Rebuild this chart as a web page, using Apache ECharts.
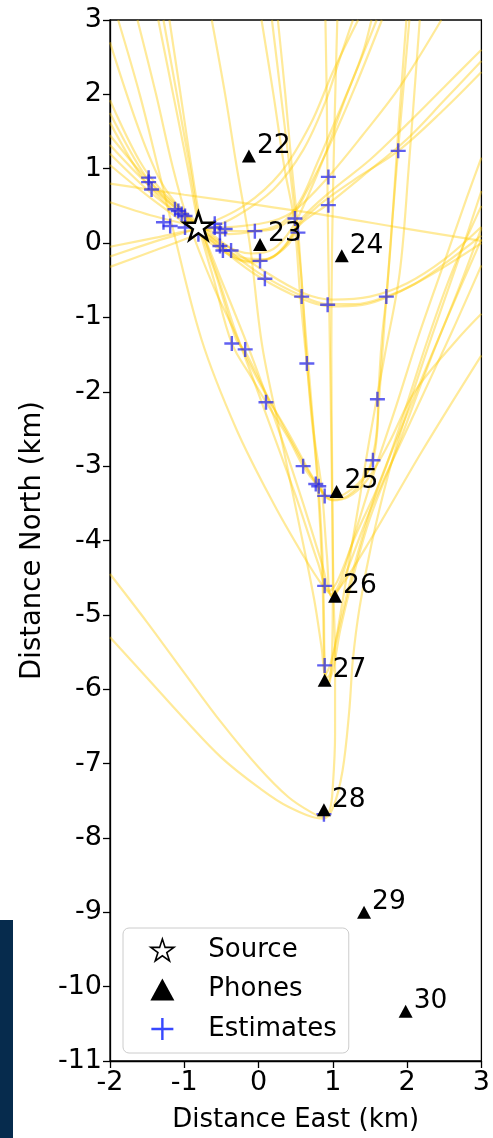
<!DOCTYPE html>
<html><head><meta charset="utf-8">
<script src="https://cdn.jsdelivr.net/npm/echarts@6/dist/echarts.min.js"></script>
<style>html,body{margin:0;padding:0;background:#fff}#c{width:493px;height:1138px}</style>
</head><body><div id="c"></div>
<script>
// ---- data ----
const phoneLabels = ['22','23','24','25','26','27','28','29','30'];
const phoneX = [-0.13, 0.02, 1.12, 1.05, 1.03, 0.89, 0.88, 1.42, 1.98];
const phoneY = [1.17, -0.02, -0.17, -3.34, -4.75, -5.88, -7.62, -9.0, -10.33];
const sourceX = [-0.81];
const sourceY = [0.23];
const estimates = [
 [-1.48,0.88],[-1.48,0.82],[-1.44,0.72],
 [-1.125,0.455],[-1.08,0.43],[-1.035,0.39],[-0.99,0.365],
 [-1.28,0.28],[-1.19,0.23],[-0.99,0.21],[-0.81,0.12],
 [-0.59,0.26],[-0.59,0.21],[-0.52,0.14],[-0.45,0.19],
 [-0.52,-0.04],[-0.48,-0.10],[-0.37,-0.10],
 [-0.05,0.16],[0.02,-0.24],[0.085,-0.48],
 [0.49,0.33],[0.53,0.14],
 [0.94,0.89],[0.94,0.51],[1.88,1.24],
 [0.58,-0.72],[0.93,-0.83],[1.72,-0.72],
 [-0.36,-1.35],[-0.18,-1.43],[0.65,-1.62],[0.10,-2.14],[1.60,-2.10],
 [0.60,-3.00],[1.54,-2.92],[0.77,-3.24],[0.81,-3.27],[0.89,-3.40],
 [0.89,-4.61],[0.89,-5.68],[0.88,-7.68]
];
const xTickValues = [-2,-1,0,1,2,3];
const yTickValues = [-11,-10,-9,-8,-7,-6,-5,-4,-3,-2,-1,0,1,2,3];

// hyperbola traces
const curve01 = [[-2.0,1.75],[-1.6,1.02],[-1.3,0.64],[-1.0,0.38],[-0.8,0.21],[-0.5,-0.03],[0.0,-0.4],[0.58,-0.71],[0.93,-0.82],[1.3,-0.82],[1.72,-0.72],[2.1,-0.55],[2.5,-0.28],[3.0,0.1]];
const curve02 = [[-2.0,1.62],[-1.6,0.93],[-1.3,0.58],[-1.0,0.34],[-0.5,-0.08],[0.0,-0.45],[0.58,-0.75],[0.95,-0.85],[1.4,-0.83],[1.8,-0.7],[2.3,-0.44],[3.0,0.0]];
const curve03 = [[-2.0,1.92],[-1.6,1.1],[-1.3,0.7],[-1.0,0.43],[-0.5,0.02],[0.05,-0.36],[0.6,-0.67],[1.0,-0.76],[1.5,-0.72],[2.0,-0.54],[2.5,-0.22],[3.0,0.22]];
const curve04 = [[-2.0,1.32],[-1.5,0.8],[-1.0,0.37],[-0.5,-0.04],[-0.2,-0.2],[0.1,-0.22],[0.35,-0.05],[0.5,0.2],[0.8,0.5],[1.3,0.86],[1.88,1.24],[2.5,1.8],[3.0,2.3]];
const curve05 = [[-2.0,1.2],[-1.5,0.72],[-1.0,0.32],[-0.5,-0.07],[-0.15,-0.24],[0.15,-0.2],[0.4,-0.02],[0.55,0.24],[0.93,0.52],[1.4,0.9],[2.0,1.4],[2.5,1.92],[3.0,2.45]];
const curve06 = [[-2.0,1.05],[-1.5,0.64],[-1.0,0.27],[-0.5,-0.1],[-0.1,-0.26],[0.2,-0.18],[0.42,0.05],[0.6,0.35],[1.0,0.72],[1.5,1.12],[2.0,1.6],[2.5,2.1],[3.0,2.6]];
const curve07 = [[-2.0,1.45],[-1.5,0.86],[-1.0,0.4],[-0.5,0.0],[-0.1,-0.14],[0.2,-0.08],[0.45,0.2],[0.65,0.6],[0.9,1.2],[1.15,1.9],[1.4,2.55],[1.52,3.0]];
const curve08 = [[-0.8,0.21],[-0.4,0.12],[-0.05,0.16],[0.3,0.26],[0.55,0.55],[0.8,1.1],[1.1,1.8],[1.35,2.4],[1.59,3.0]];
const curve09 = [[-2.0,0.55],[-1.4,0.36],[-0.8,0.22],[-0.3,0.16],[0.1,0.17],[0.4,0.3],[0.65,0.7],[0.95,1.3],[1.3,2.1],[1.66,3.0]];
const curve10 = [[-2.0,0.8],[-1.0,0.65],[0.0,0.51],[1.0,0.36],[2.0,0.19],[3.0,0.03]];
const curve11 = [[-2.0,-0.32],[-1.4,-0.1],[-0.8,0.13],[-0.3,0.36],[0.2,0.72],[0.6,1.25],[0.9,1.9],[1.1,2.5],[1.27,3.0]];
const curve12 = [[-2.0,-0.18],[-1.4,0.02],[-0.8,0.21],[-0.2,0.5],[0.3,0.95],[0.7,1.6],[1.0,2.3],[1.34,3.0]];
const curve13 = [[-2.0,-0.05],[-1.4,0.07],[-0.8,0.19],[-0.3,0.22],[0.2,0.3],[0.5,0.45],[0.93,0.88],[1.4,1.45],[1.9,2.1],[2.46,3.0]];
const curve14 = [[-1.35,3.0],[-1.15,2.0],[-0.95,1.0],[-0.8,0.21],[-0.6,-0.5],[-0.36,-1.35],[-0.1,-1.8],[0.1,-2.14],[0.4,-2.62],[0.6,-3.0],[0.8,-3.27],[0.96,-3.42],[1.15,-3.38],[1.4,-3.17],[1.54,-2.92],[1.6,-2.5],[1.61,-2.1],[1.66,-1.29],[1.72,-0.72],[1.8,0.3],[1.9,1.5],[2.03,3.0]];
const curve15 = [[-1.28,3.0],[-1.1,2.0],[-0.92,1.0],[-0.78,0.2],[-0.55,-0.5],[-0.3,-1.3],[-0.18,-1.46],[0.14,-2.1],[0.6,-2.95],[0.83,-3.3],[0.98,-3.45],[1.2,-3.4],[1.45,-3.12],[1.57,-2.7],[1.63,-2.0],[1.7,-1.0],[1.78,0.0],[1.88,1.5],[1.99,3.0]];
const curve16 = [[-1.2,3.0],[-1.05,2.0],[-0.9,1.0],[-0.76,0.2],[-0.5,-0.6],[-0.25,-1.35],[0.05,-1.95],[0.4,-2.55],[0.7,-3.1],[0.89,-3.4],[1.0,-3.46],[1.2,-3.42],[1.45,-3.2],[1.75,-2.7],[2.1,-2.0],[2.68,-1.29],[3.0,-0.95]];
const curve17 = [[-1.89,3.0],[-1.6,2.0],[-1.35,1.0],[-1.18,0.3],[-0.77,-1.29],[-0.3,-2.5],[0.2,-3.5],[0.6,-4.2],[0.85,-4.59],[0.98,-4.72],[1.12,-4.6],[1.5,-4.0],[2.2,-2.8],[3.0,-1.51]];
const curve18 = [[-1.63,3.0],[-1.38,2.0],[-1.15,1.0],[-0.95,0.3],[-0.6,-0.6],[-0.28,-1.29],[0.1,-2.3],[0.5,-3.4],[0.8,-4.3],[0.95,-4.68],[1.06,-4.55],[1.3,-3.95],[1.7,-3.05],[2.28,-1.29],[2.6,-0.4],[3.0,0.5]];
const curve19 = [[0.04,3.0],[0.2,2.0],[0.35,1.0],[0.48,0.3],[0.56,-0.7],[0.65,-1.62],[0.75,-2.6],[0.85,-3.3],[0.92,-4.2],[0.98,-4.75],[1.1,-4.55],[1.3,-3.9],[1.55,-3.1],[1.85,-2.2],[2.14,-1.29],[2.45,-0.4],[2.8,0.6],[3.0,1.15]];
const curve20 = [[-2.0,2.7],[-1.6,1.5],[-1.3,0.8],[-1.0,0.4],[-0.8,0.21],[-0.5,-0.5],[-0.1,-1.5],[0.3,-2.6],[0.6,-3.5],[0.85,-4.3],[1.0,-4.76],[1.15,-4.5],[1.5,-3.6],[2.0,-2.5],[2.6,-1.2],[3.0,-0.3]];
const curve21 = [[-0.63,3.0],[-0.45,2.0],[-0.3,1.06],[-0.12,0.0],[0.05,-1.39],[0.3,-2.6],[0.55,-3.8],[0.75,-4.8],[0.85,-5.45],[0.9,-5.8],[0.97,-5.65],[1.1,-5.1],[1.3,-4.3],[1.6,-3.3],[2.0,-2.3],[2.5,-1.1],[3.0,0.05]];
const curve22 = [[0.18,3.0],[0.3,2.0],[0.42,1.0],[0.5,0.3],[0.58,-0.5],[0.63,-1.3],[0.7,-2.2],[0.8,-3.2],[0.86,-4.2],[0.88,-5.0],[0.89,-5.6],[0.93,-5.9],[1.0,-5.75],[1.1,-5.2],[1.27,-4.5],[1.5,-3.7],[1.85,-2.8],[2.3,-1.6],[2.7,-0.6],[3.0,0.2]];
const curve23 = [[0.26,3.0],[0.36,2.0],[0.45,1.0],[0.53,0.2],[0.6,-0.8],[0.7,-2.0],[0.8,-3.3],[0.86,-4.5],[0.88,-5.5],[0.9,-5.86],[0.96,-5.8],[1.05,-5.3],[1.2,-4.4],[1.35,-3.5],[1.5,-2.6],[1.7,-1.5],[1.9,-0.4],[2.02,1.0],[2.17,3.0]];
const curve24 = [[-2.0,-4.45],[-1.5,-5.1],[-1.0,-5.78],[-0.5,-6.45],[0.0,-7.05],[0.4,-7.45],[0.7,-7.65],[0.87,-7.72],[0.96,-7.62],[1.0,-7.3],[1.03,-6.6],[1.03,-5.57],[1.01,-4.75],[0.99,-3.4],[0.97,-2.0],[0.95,-0.8],[0.93,0.5],[0.92,1.8],[0.9,3.0]];
const curve25 = [[-2.0,-5.3],[-1.5,-5.85],[-1.0,-6.4],[-0.5,-6.92],[0.0,-7.32],[0.4,-7.58],[0.87,-7.74],[1.0,-7.6],[1.13,-7.1],[1.22,-6.3],[1.27,-5.6],[1.36,-4.9],[1.52,-4.05],[1.75,-3.1],[2.05,-2.1],[2.35,-1.2],[2.7,-0.2],[3.0,0.7]];
const curve26 = [[1.06,3.0],[1.02,1.5],[0.99,0.0],[0.98,-1.5],[0.99,-3.0],[1.0,-4.5],[0.99,-5.5],[0.96,-5.9],[0.92,-5.95]];
const curves = [curve01,curve02,curve03,curve04,curve05,curve06,curve07,curve08,curve09,curve10,curve11,curve12,curve13,
  curve14,curve15,curve16,curve17,curve18,curve19,curve20,curve21,curve22,curve23,curve24,curve25,curve26];

// ---- styles ----
function starPath(){
  let p = 'path://';
  for (let k = 0; k < 10; k++) {
    const r = (k % 2) ? 0.382 : 1;
    const a = (-90 + k * 36) * Math.PI / 180;
    p += (k ? 'L' : 'M') + (r * Math.cos(a)).toFixed(4) + ',' + (r * Math.sin(a)).toFixed(4);
  }
  return p + 'Z';
}
const STAR = starPath();
const PLUS = 'path://M0,4.2H10V5.8H0Z M4.2,0H5.8V10H4.2Z';
const PLUS_THIN = 'path://M0,4.45H10V5.55H0Z M4.45,0H5.55V10H4.45Z';
const FONT = 'DejaVu Sans';

const series = curves.map(c => ({
  type: 'line', data: c, smooth: 0.35, showSymbol: false, silent: true,
  lineStyle: { color: 'rgba(255,203,0,0.4)', width: 2.2 }, z: 1
}));
series.push({
  name: 'Estimates', type: 'scatter', symbol: PLUS, symbolSize: 15, silent: true,
  data: estimates, itemStyle: { color: 'rgba(35,35,235,0.72)', opacity: 1 }, z: 3
});
series.push({
  name: 'Phones', type: 'scatter', symbol: 'triangle', symbolSize: [14, 13], silent: true,
  data: phoneX.map((x, i) => [x, phoneY[i], phoneLabels[i]]),
  itemStyle: { color: '#000', opacity: 1 },
  label: { show: true, position: 'right', distance: 1, offset: [0, -10],
    formatter: p => p.data[2], fontSize: 26.5, fontFamily: FONT, color: '#000' },
  z: 4
});
series.push({
  name: 'Source', type: 'scatter', symbol: STAR, symbolSize: 29, symbolKeepAspect: true, silent: true,
  data: sourceX.map((x, i) => [x, sourceY[i]]),
  itemStyle: { color: '#fff', borderColor: '#000', borderWidth: 2.5, opacity: 1 }, z: 5
});

const axisCommon = {
  type: 'value', interval: 1,
  axisLine: { show: true, onZero: false, lineStyle: { color: '#000', width: 1.3 } },
  axisTick: { show: true, inside: false, length: 7, lineStyle: { color: '#000', width: 1.3 } },
  axisLabel: { fontSize: 27, fontFamily: FONT, color: '#000', margin: 8 },
  splitLine: { show: false },
  nameLocation: 'middle',
  nameTextStyle: { fontSize: 26, fontFamily: FONT, color: '#000' }
};

const chart = echarts.init(document.getElementById('c'), null, { renderer: 'canvas' });
chart.setOption({
  animation: false,
  backgroundColor: '#fff',
  grid: { left: 110, top: 20, width: 373, height: 1046, show: true, borderColor: '#000', borderWidth: 1.3, backgroundColor: 'transparent' },
  xAxis: Object.assign({}, axisCommon, { min: -2, max: 3, name: 'Distance East (km)', nameGap: 46 }),
  yAxis: Object.assign({}, axisCommon, { min: -11, max: 3, name: 'Distance North (km)', nameGap: 63,
    nameTextStyle: { fontSize: 27.5, fontFamily: FONT, color: '#000' } }),
  legend: {
    orient: 'vertical', left: 123, top: 928,
    padding: [9, 12, 11, 27], itemGap: 13.5, itemWidth: 24, itemHeight: 22,
    backgroundColor: 'rgba(255,255,255,0.85)', borderColor: '#cccccc', borderWidth: 1, borderRadius: 6,
    textStyle: { fontSize: 26, fontFamily: FONT, color: '#000', lineHeight: 22, padding: [0, 0, 0, 29] },
    data: [
      { name: 'Source', icon: STAR, itemStyle: { color: '#fff', borderColor: '#000', borderWidth: 1.6, opacity: 1 } },
      { name: 'Phones', icon: 'triangle', itemStyle: { color: '#000', opacity: 1 } },
      { name: 'Estimates', icon: PLUS_THIN, itemStyle: { color: 'rgba(20,40,255,0.85)', opacity: 1 } }
    ]
  },
  graphic: [{ type: 'rect', left: 0, top: 920, shape: { width: 13, height: 218 }, style: { fill: '#062b4d' }, silent: true }],
  series: series
});
</script></body></html>
